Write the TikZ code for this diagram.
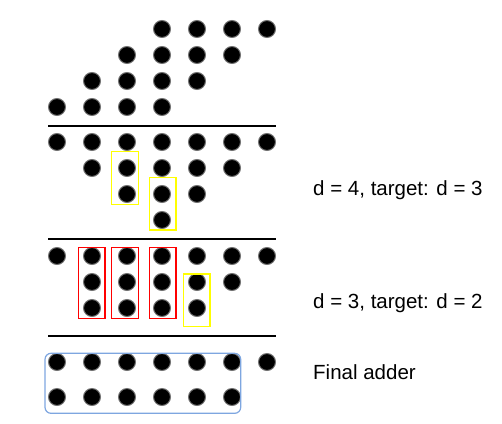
\documentclass[tikz,border=0pt]{standalone}
\usepackage{fontspec}
\setmainfont{Liberation Sans}
\definecolor{boxyellow}{RGB}{255,255,0}
\definecolor{boxred}{RGB}{255,0,0}
\definecolor{boxblue}{RGB}{126,166,224}
\tikzset{
  dot/.style={fill=black, draw=black!55, line width=1pt},
  sepline/.style={line width=1.6pt},
  label/.style={anchor=west, inner sep=0pt, font=\fontsize{20.5}{24}\selectfont}
}
\begin{document}
\begin{tikzpicture}[x=1pt, y=-1pt]

                \useasboundingbox (0,0) rectangle (502,423);

                % Initial partial products
                \foreach \c in {3,4,5,6} \draw[dot] (57+35*\c,29) circle (8.5);
                \foreach \c in {2,3,4,5} \draw[dot] (57+35*\c,55) circle (8.5);
                \foreach \c in {1,2,3,4} \draw[dot] (57+35*\c,81) circle (8.5);
                \foreach \c in {0,1,2,3} \draw[dot] (57+35*\c,107) circle (8.5);
                \draw[sepline] (48,126) -- (276,126);

                % Stage d = 4
                \foreach \c in {0,...,6} \draw[dot] (57+35*\c,142) circle (8.5);
                \foreach \c in {1,...,5} \draw[dot] (57+35*\c,168) circle (8.5);
                \foreach \c in {2,3,4} \draw[dot] (57+35*\c,194) circle (8.5);
                \draw[dot] (162,220) circle (8.5);
                \draw[boxyellow, line width=1.2pt] (111.7,151.7) rectangle (138.3,204.3); % half adder
                \draw[boxyellow, line width=1.2pt] (149.3,177.7) rectangle (176,230); % half adder
                \draw[sepline] (48,239) -- (276,239);

                % Stage d = 3
                \foreach \c in {0,...,6} \draw[dot] (57+35*\c,256) circle (8.5);
                \foreach \c in {1,...,5} \draw[dot] (57+35*\c,282) circle (8.5);
                \foreach \c in {1,...,4} \draw[dot] (57+35*\c,308) circle (8.5);
                \draw[boxred, line width=1.2pt] (78.3,247.7) rectangle (105,318.3); % full adders
                \draw[boxred, line width=1.2pt] (111.7,247.7) rectangle (138.3,318.3);
                \draw[boxred, line width=1.2pt] (149.3,247.7) rectangle (176,318.3);
                \draw[boxyellow, line width=1.2pt] (183.3,274) rectangle (210,326.7); % half adder
                \draw[sepline] (48,336) -- (276,336);

                % Final two rows
                \foreach \c in {0,...,6} \draw[dot] (57+35*\c,362) circle (8.5);
                \foreach \c in {0,...,5} \draw[dot] (57+35*\c,397) circle (8.5);
                \draw[boxblue, line width=1.2pt, rounded corners=6] (45,353.3) rectangle (240.7,413.3);

                % Labels
                \node[label] (stagefour) at (313,190) {d = 4, target: d = 3};
                \node[label] (stagethree) at (313,302.7) {d = 3, target: d = 2};
                \node[label] (finaladder) at (313,371.7) {Final adder};

\end{tikzpicture}
\end{document}
